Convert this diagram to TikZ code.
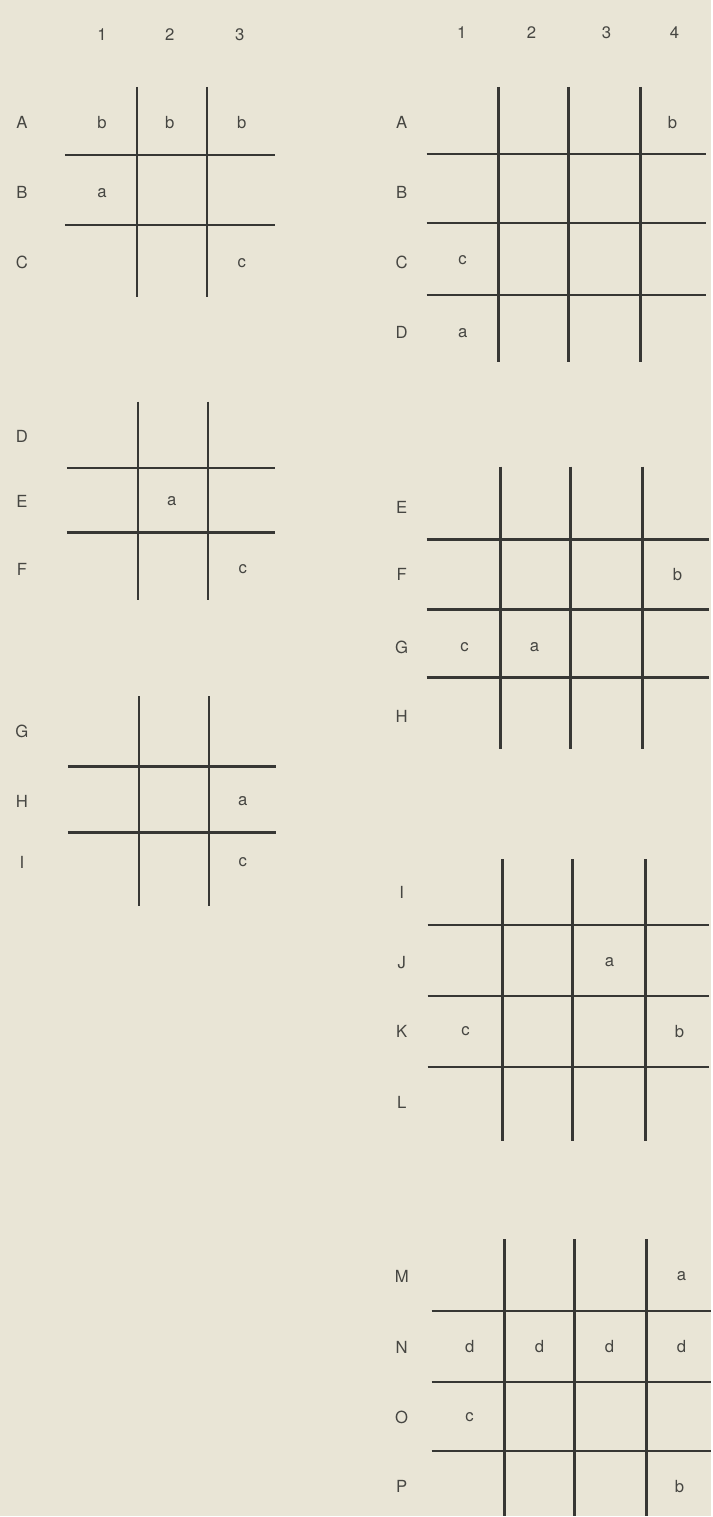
\documentclass[tikz,border=0pt]{standalone}
\usepackage{fontspec}
\setmainfont{TeX Gyre Heros}
\usepackage{xcolor}
\definecolor{paper}{RGB}{233, 229, 214}
\definecolor{ink}{RGB}{55, 55, 52}
\definecolor{inklight}{RGB}{70, 70, 66}
\usepackage{tikz}

\begin{document}
\begin{tikzpicture}[
    x=0.02cm, y=-0.02cm,
    rule/.style={draw=ink, line width=1.3pt},
    lbl/.style={text=inklight, font=\fontsize{9.5}{11}\selectfont, inner sep=0pt},
    cell/.style={lbl}
  ]
  \fill[paper] (0,0) rectangle (712,1517);

  % left column: three 3x3 boards
  \foreach \c/\x in {1/102, 2/170, 3/240}
    \node[lbl] (lhead\c) at (\x,35) {\c};
  \foreach \r/\y in {A/123, B/193, C/263, D/437, E/502, F/570, G/732, H/802, I/863}
    \node[lbl] (lrow\r) at (22,\y) {\r};

  \foreach \x in {137, 207} \draw[rule] (\x,87) -- (\x,297);
  \foreach \y in {155, 225} \draw[rule] (65,\y) -- (275,\y);
  \node[cell] (lA1) at (102,123) {b};
  \node[cell] (lA2) at (170,123) {b};
  \node[cell] (lA3) at (242,123) {b};
  \node[cell] (lB1) at (102,193) {a};
  \node[cell] (lC3) at (242,263) {c};

  \foreach \x in {138, 208} \draw[rule] (\x,402) -- (\x,600);
  \foreach \y in {468, 533} \draw[rule] (67,\y) -- (275,\y);
  \node[cell] (lE2) at (172,502) {a};
  \node[cell] (lF3) at (243,570) {c};

  \foreach \x in {139, 209} \draw[rule] (\x,697) -- (\x,907);
  \foreach \y in {767, 833} \draw[rule] (68,\y) -- (276,\y);
  \node[cell] (lH3) at (243,802) {a};
  \node[cell] (lI3) at (243,863) {c};

  % right column: four 4x4 boards
  \foreach \c/\x in {1/462, 2/532, 3/607, 4/675}
    \node[lbl] (rhead\c) at (\x,33) {\c};
  \foreach \r/\y in {A/123, B/193, C/263, D/333, E/508, F/575, G/648, H/717,
                     I/893, J/963, K/1032, L/1103, M/1277, N/1348, O/1418, P/1488}
    \node[lbl] (rrow\r) at (402,\y) {\r};

  \foreach \x in {499, 569, 641} \draw[rule] (\x,87) -- (\x,362);
  \foreach \y in {154, 223, 295} \draw[rule] (427,\y) -- (707,\y);
  \node[cell] (rA4) at (673,123) {b};
  \node[cell] (rC1) at (463,260) {c};
  \node[cell] (rD1) at (463,333) {a};

  \foreach \x in {501, 571, 643} \draw[rule] (\x,467) -- (\x,750);
  \foreach \y in {540, 610, 678} \draw[rule] (427,\y) -- (710,\y);
  \node[cell] (rF4) at (678,575) {b};
  \node[cell] (rG1) at (465,648) {c};
  \node[cell] (rG2) at (535,648) {a};

  \foreach \x in {503, 573, 646} \draw[rule] (\x,860) -- (\x,1142);
  \foreach \y in {926, 997, 1068} \draw[rule] (428,\y) -- (710,\y);
  \node[cell] (rJ3) at (610,963) {a};
  \node[cell] (rK1) at (466,1032) {c};
  \node[cell] (rK4) at (680,1032) {b};

  \foreach \x in {505, 575, 647} \draw[rule] (\x,1240) -- (\x,1517);
  \foreach \y in {1312, 1383, 1452} \draw[rule] (432,\y) -- (712,\y);
  \node[cell] (rM4) at (682,1277) {a};
  \foreach \c/\x in {1/470, 2/540, 3/610, 4/682}
    \node[cell] (rN\c) at (\x,1348) {d};
  \node[cell] (rO1) at (470,1418) {c};
  \node[cell] (rP4) at (680,1488) {b};
\end{tikzpicture}
\end{document}
